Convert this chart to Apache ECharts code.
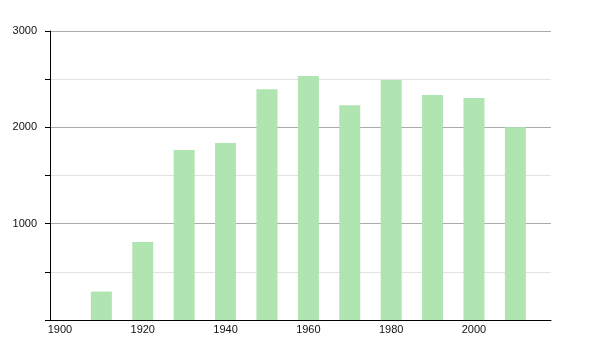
<!DOCTYPE html>
<html><head><meta charset="utf-8">
<script src="https://cdn.jsdelivr.net/npm/echarts@6/dist/echarts.min.js"></script>
<style>html,body{margin:0;padding:0;background:#fff}#c{width:600px;height:350px}</style>
</head><body><div id="c"></div>
<script>
var years = [1910, 1920, 1930, 1940, 1950, 1960, 1970, 1980, 1990, 2000, 2010];
var population = [295, 810, 1765, 1837, 2395, 2533, 2229, 2491, 2336, 2305, 2000];
var xTickLabels = [1900, 1920, 1940, 1960, 1980, 2000];
var yTicks = [0, 500, 1000, 1500, 2000, 2500, 3000];

var chart = echarts.init(document.getElementById('c'), null, {renderer: 'canvas'});
chart.setOption({
  animation: false,
  grid: {left: 50, top: 31, right: 49, bottom: 30, containLabel: false},
  xAxis: {
    type: 'value', min: 1897.6, max: 2018.6,
    axisLine: {show: true, lineStyle: {color: '#000', width: 1}},
    axisTick: {show: false},
    splitLine: {show: false},
    axisLabel: {
      customValues: xTickLabels, color: '#111', fontSize: 11,
      fontFamily: 'Liberation Sans, Arial, sans-serif', margin: 4,
      formatter: function (v) { return String(v); }
    }
  },
  yAxis: {
    type: 'value', min: 0, max: 3000, interval: 500,
    axisLine: {show: true, lineStyle: {color: '#000', width: 1}},
    axisTick: {show: true, length: 5, lineStyle: {color: '#000'}},
    splitLine: {show: true, lineStyle: {color: ['#aaaaaa', '#e2e2e2'], width: 1}},
    axisLabel: {
      color: '#111', fontSize: 11, margin: 13,
      fontFamily: 'Liberation Sans, Arial, sans-serif',
      formatter: function (v) { return v % 1000 === 0 && v > 0 ? String(v) : ''; }
    }
  },
  series: [{
    type: 'bar', barWidth: 21,
    itemStyle: {color: '#b0e4b0'},
    data: years.map(function (y, i) { return [y, population[i]]; })
  }]
});
</script></body></html>
